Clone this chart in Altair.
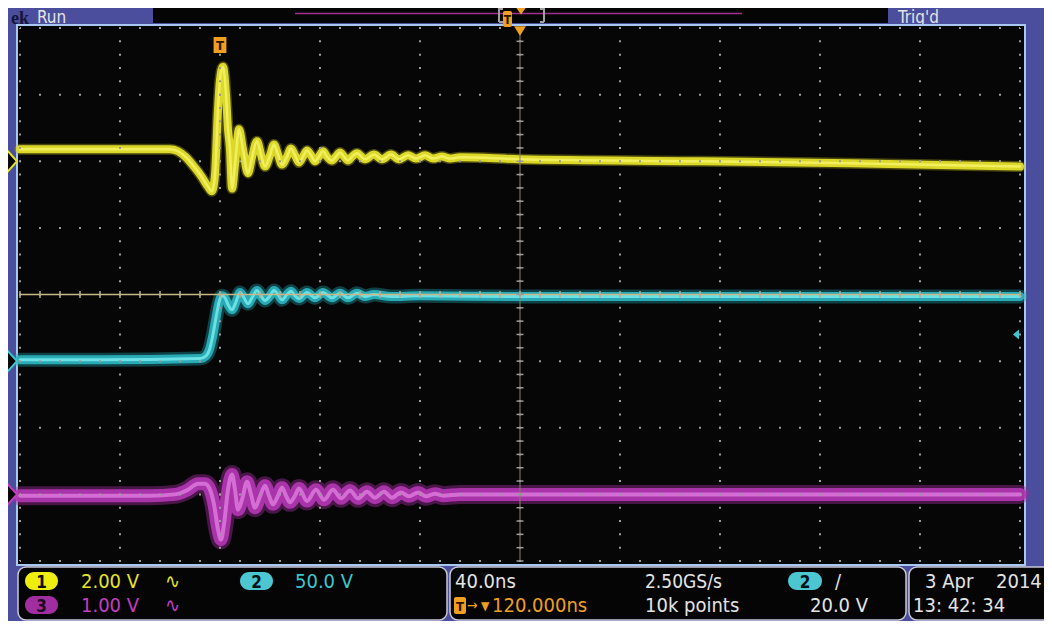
import altair as alt
import pandas as pd

# ---------------- data (time in ns relative to trigger, value in screen divisions) -------------
ch1_t = [-80, -48, -20, -16.8, -13.6, -10.4, -7.2, -4.8, -3.2, -2.0,
         -0.8, 0.0, 1.2, 2.4, 3.2, 4.0, 4.8, 6.0, 7.6, 9.2,
         11.2, 12.8, 14.8, 16.4, 18.0, 20.0, 21.6, 23.2, 24.8, 26.8,
         28.4, 30.0, 31.6, 33.2, 34.8, 36.4, 38.0, 39.6, 41.2, 42.8,
         44.8, 46.4, 48.0, 49.6, 51.2, 52.8, 54.8, 58.0, 61.6, 64.8,
         68.4, 71.6, 75.2, 78.4, 82.0, 85.2, 88.8, 92.0, 96, 120,
         192, 252, 320]
ch1_v = [2.18, 2.18, 2.18, 2.15, 2.06, 1.92, 1.76, 1.62, 1.55, 1.80,
         2.78, 3.22, 3.42, 3.00, 2.48, 2.18, 1.59, 1.95, 2.48, 2.18,
         1.82, 2.06, 2.30, 2.10, 1.92, 2.09, 2.25, 2.10, 1.95, 2.07,
         2.19, 2.09, 1.98, 2.07, 2.16, 2.09, 2.00, 2.07, 2.15, 2.07,
         2.01, 2.07, 2.13, 2.07, 2.01, 2.07, 2.12, 2.03, 2.10, 2.03,
         2.10, 2.03, 2.09, 2.04, 2.09, 2.04, 2.07, 2.04, 2.06, 2.03,
         2.00, 1.97, 1.92]

ch2_t = [-80, -48, -8, -5.6, -4.0, -2.8, -1.6, -0.4, 0.8, 2.0,
         3.2, 4.8, 6.4, 8.0, 9.6, 11.2, 12.8, 14.8, 16.4, 18.0,
         20.0, 21.6, 23.2, 24.8, 26.8, 28.4, 30.0, 31.6, 34.8, 38.0,
         41.2, 44.8, 48.0, 51.2, 54.8, 58.0, 61.6, 68.4, 80, 120,
         320]
ch2_v = [-0.98, -0.98, -0.96, -0.92, -0.80, -0.60, -0.35, -0.12, -0.02, -0.05,
         -0.15, -0.23, -0.11, 0.03, -0.05, -0.14, -0.05, 0.06, -0.02, -0.09,
         -0.02, 0.06, 0.0, -0.08, 0.0, 0.05, -0.02, -0.06, 0.03, -0.05,
         0.03, -0.05, 0.02, -0.05, 0.02, -0.03, 0.0, -0.03, -0.02, -0.03,
         -0.03]

ch3_t = [-80, -28, -18, -12.8, -8.8, -6.0, -4.0, -2.4, -0.8, 0.4,
         1.6, 3.2, 4.8, 6.0, 7.2, 8.8, 10.8, 12.4, 14.0, 16.0,
         18.0, 19.6, 21.2, 23.2, 24.8, 26.4, 28.0, 30.0, 31.6, 34.8,
         38.4, 41.6, 45.2, 48.4, 52.0, 55.2, 58.8, 62.0, 65.6, 68.8,
         72.4, 75.6, 79.2, 82.4, 86.0, 89.2, 96, 120, 320]
ch3_v = [-3.02, -3.02, -3.0, -2.93, -2.84, -2.84, -2.93, -3.15, -3.53, -3.68,
         -3.45, -2.93, -2.70, -2.93, -3.23, -3.08, -2.81, -3.0, -3.2, -3.03,
         -2.87, -3.02, -3.15, -3.02, -2.90, -3.02, -3.12, -3.02, -2.91, -3.10,
         -2.93, -3.08, -2.93, -3.06, -2.94, -3.06, -2.96, -3.05, -2.96, -3.05,
         -2.97, -3.03, -2.97, -3.03, -2.99, -3.02, -3.0, -3.0, -3.0]

# channel ground levels (divisions) and trigger level marker for ch2
ch_ground = [2.0, -1.0, -3.0]
trig_level = -0.6
trig_time = 0
center_time = 120

# status texts
ch_labels = ["1", "2", "3"]
ch_scales = ["2.00 V", "50.0 V", "1.00 V"]
timebase = "40.0ns"
sample_rate = "2.50GS/s"
delay_text = "120.000ns"
record_len = "10k points"
trig_value = "20.0 V"
date_text = "3 Apr"
year_text = "2014"
time_text = "13: 42: 34"

# graticule values
x_major = [-80, -40, 0, 40, 80, 120, 160, 200, 240, 280, 320]
y_major = [-4, -3, -2, -1, 0, 1, 2, 3, 4]
x_minor = [-80 + 8 * i for i in range(51)]
y_minor = [round(-4 + 0.2 * i, 2) for i in range(41)]

# ---------------- styling ----------------
W, H = 1000, 533
FONT = "DejaVu Sans Condensed, DejaVu Sans, sans-serif"
BLUE = "#4a4e9c"
YEL, CYA, MAG, ORA, WHT = "#e6e22a", "#3ec6cf", "#c23ec2", "#f0a020", "#e4e4e4"

xs = alt.Scale(domain=[-80, 320], nice=False, zero=False)
ys = alt.Scale(domain=[-4, 4], nice=False, zero=False)
ONE = alt.Data(values=[{"k": 0}])


def rect(x1, x2, y1, y2, fill, stroke=None, sw=0, r=0):
    kw = dict(fill=fill)
    if stroke:
        kw.update(stroke=stroke, strokeWidth=sw)
    if r:
        kw["cornerRadius"] = r
    return alt.Chart(ONE).mark_rect(**kw).encode(
        x=alt.value(x1), x2=alt.value(x2), y=alt.value(y1), y2=alt.value(y2))


def rule(x1, x2, y1, y2, color, sw):
    return alt.Chart(ONE).mark_rule(color=color, strokeWidth=sw).encode(
        x=alt.value(x1), x2=alt.value(x2), y=alt.value(y1), y2=alt.value(y2))


def txt(s, x, y, color, size=20, align="left", font=FONT, weight="normal", baseline="alphabetic"):
    return alt.Chart(ONE).mark_text(text=s, align=align, baseline=baseline, font=font,
                                    fontSize=size, color=color, fontWeight=weight).encode(
        x=alt.value(x), y=alt.value(y))


def pill(x1, x2, y1, y2, fill, label, tcolor):
    return [rect(x1, x2, y1, y2, fill, r=(y2 - y1) / 2),
            txt(label, (x1 + x2) / 2, y2 - 2, tcolor, size=17, align="center", weight="bold")]


layers = []
# bezel
layers.append(rect(-12, 1024, -20, 593, BLUE))
layers.append(txt("ek", -9, -4, "#16163a", size=18, font="Liberation Serif, DejaVu Serif", weight="bold"))
# top bar
layers.append(rect(133, 868, -23, -5, "#050505"))
layers.append(txt("Run", 17, -5, WHT, size=17))
layers.append(txt("Trig'd", 878, -5, WHT, size=17))
layers.append(rule(275, 722, -14.5, -14.5, "#a03090", 1.5))
for bx, d in [(479, 1), (524, -1)]:
    layers.append(rule(bx, bx, -20, -6, "#a0a0a0", 2))
    layers.append(rule(bx, bx + 4 * d, -19, -19, "#a0a0a0", 2))
    layers.append(rule(bx, bx + 4 * d, -6, -6, "#a0a0a0", 2))
# plot area
layers.append(rect(-3, 1005, -3, 537, "#060606", stroke="#a8c8f0", sw=2))
# top-bar trigger badge and position marker
layers.append(rect(483, 492, -17, -1, ORA, r=2))
layers.append(txt("T", 487.5, -4, "#2a1400", size=12, align="center", weight="bold"))
layers.append(alt.Chart(ONE).mark_point(shape="M-1,-0.7L1,-0.7L0,0.7Z", size=100, filled=True,
                                        color=ORA, opacity=1).encode(
    x=alt.value(501), y=alt.value(-17)))

# status bar boxes
for x1, x2 in [(-2, 427), (430, 886), (889, 1040)]:
    layers.append(rect(x1, x2, 539, 592, "#050505", stroke="#c8c8d4", sw=1.5, r=8))
layers += pill(5, 38, 544, 562, "#eeee10", ch_labels[0], "#101000")
layers += pill(5, 38, 568, 586, "#a02ea0", ch_labels[2], "#200820")
layers += pill(220, 253, 544, 562, "#4cc6d0", ch_labels[1], "#001418")
layers += pill(768, 802, 544, 562, "#4cc6d0", ch_labels[1], "#001418")
layers.append(txt(ch_scales[0], 61, 560, YEL))
layers.append(txt("∿", 145, 560, YEL))
layers.append(txt(ch_scales[1], 275, 560, CYA))
layers.append(txt(ch_scales[2], 61, 584, MAG))
layers.append(txt("∿", 145, 584, MAG))
layers.append(txt(timebase, 435, 560, WHT))
layers.append(txt(sample_rate, 625, 560, WHT, size=19))
layers.append(txt("/", 815, 560, WHT))
layers.append(rect(434, 446, 569, 586, ORA, r=2))
layers.append(txt("T", 440, 583, "#2a1400", size=13, align="center", weight="bold"))
layers.append(txt("→", 447, 582, ORA, size=14))
layers.append(txt("▼", 461, 582, ORA, size=12))
layers.append(txt(delay_text, 472, 584, ORA))
layers.append(txt(record_len, 625, 584, WHT))
layers.append(txt(trig_value, 790, 584, WHT))
layers.append(txt(date_text, 905, 560, WHT))
layers.append(txt(year_text, 976, 560, WHT))
layers.append(txt(time_text, 893, 584, WHT))

# traces
traces = [
    (ch1_t, ch1_v, [("#c8c21c", 11, 0.35), ("#dcd82a", 8, 1.0), ("#f4f264", 2.5, 0.9)]),
    (ch2_t, ch2_v, [("#1e9ea8", 14, 0.4), ("#2cb6c0", 9, 0.9), ("#72e6ea", 3, 0.9)]),
    (ch3_t, ch3_v, [("#9a2c9a", 19, 0.45), ("#b436b4", 13, 0.9), ("#d874d8", 4, 0.9)]),
]
for t, v, styles in traces:
    df = pd.DataFrame({"t": t, "v": v})
    for col, sw, op in styles:
        layers.append(alt.Chart(df).mark_line(interpolate="monotone", color=col, strokeWidth=sw,
                                              opacity=op, strokeCap="round", strokeJoin="round").encode(
            x=alt.X("t:Q", scale=xs, axis=None),
            y=alt.Y("v:Q", scale=ys, axis=None)))

# dotted graticule drawn above the traces
layers.append(alt.Chart(pd.DataFrame({"gx": x_major})).mark_rule(
    color="#9a9a9a", strokeWidth=2, strokeDash=[2, 11.325], strokeDashOffset=1).encode(
    x=alt.X("gx:Q", scale=xs, axis=None)))
layers.append(alt.Chart(pd.DataFrame({"gy": y_major})).mark_rule(
    color="#9a9a9a", strokeWidth=2, strokeDash=[2, 18], strokeDashOffset=1).encode(
    y=alt.Y("gy:Q", scale=ys, axis=None)))

# centre lines with minor ticks
layers.append(alt.Chart(ONE).mark_rule(color="#8c8268", strokeWidth=1).encode(
    x=alt.XDatum(center_time, scale=xs, axis=None)))
layers.append(alt.Chart(ONE).mark_rule(color="#c8b888", strokeWidth=1.5).encode(
    y=alt.YDatum(0, scale=ys, axis=None)))
layers.append(alt.Chart(pd.DataFrame({"tx": x_minor})).mark_rule(color="#b8ac8c", strokeWidth=1.5).encode(
    x=alt.X("tx:Q", scale=xs, axis=None), y=alt.value(H / 2 - 3.5), y2=alt.value(H / 2 + 3.5)))
layers.append(alt.Chart(pd.DataFrame({"ty": y_minor})).mark_rule(color="#9a9a9a", strokeWidth=1.5).encode(
    y=alt.Y("ty:Q", scale=ys, axis=None), x=alt.value(W / 2 - 3.5), x2=alt.value(W / 2 + 3.5)))

# channel ground markers
for lvl, col in zip(ch_ground, [YEL, CYA, MAG]):
    layers.append(alt.Chart(ONE).mark_point(shape="M-0.45,-1L0.45,0L-0.45,1Z", size=484, filled=True,
                                            fill="#050505", stroke=col, strokeWidth=2, opacity=1).encode(
        x=alt.value(-8), y=alt.YDatum(lvl, scale=ys, axis=None)))
# trigger level marker
layers.append(alt.Chart(ONE).mark_point(shape="M0.6,-1L-0.6,0L0.6,1Z", size=100, filled=True,
                                        color=CYA, opacity=1).encode(
    x=alt.value(996), y=alt.YDatum(trig_level, scale=ys, axis=None)))
# horizontal position marker and trigger point badge
layers.append(alt.Chart(ONE).mark_point(shape="M-1,-0.8L1,-0.8L0,0.8Z", size=144, filled=True,
                                        color=ORA, opacity=1).encode(
    x=alt.XDatum(center_time, scale=xs, axis=None), y=alt.value(3)))
layers.append(alt.Chart(ONE).mark_point(shape="M-0.8,-1L0.8,-1L0.8,1L-0.8,1Z", size=256, filled=True,
                                        color=ORA, opacity=1).encode(
    x=alt.XDatum(trig_time, scale=xs, axis=None), y=alt.value(17)))
layers.append(alt.Chart(ONE).mark_text(text="T", font=FONT, fontSize=13, fontWeight="bold",
                                       color="#2a1400", baseline="middle").encode(
    x=alt.XDatum(trig_time, scale=xs, axis=None), y=alt.value(18)))

chart = alt.layer(*layers).properties(
    width=W, height=H,
    padding={"left": 12, "top": 20, "right": 24, "bottom": 61},
    autosize=alt.AutoSizeParams(type="none"),
    background="white",
).configure_view(stroke=None)

chart.save("out.html", embed_options={"renderer": "svg", "actions": False})
